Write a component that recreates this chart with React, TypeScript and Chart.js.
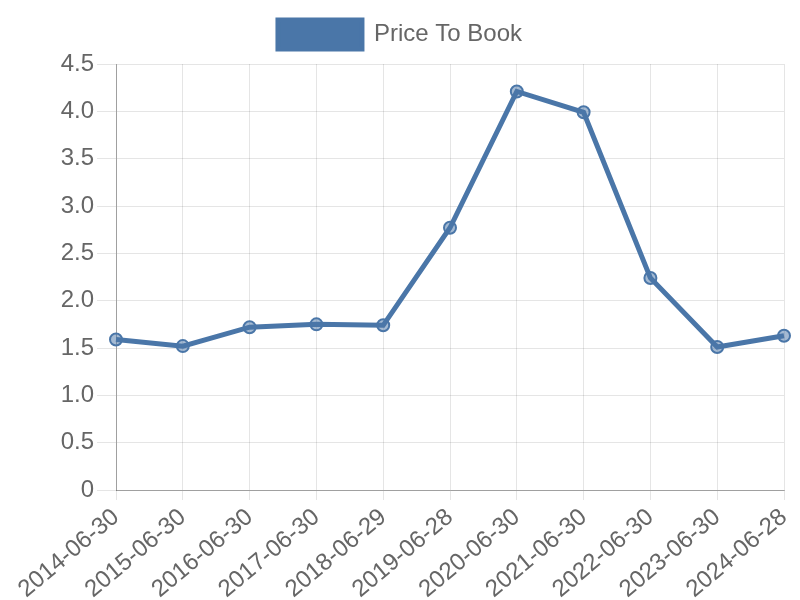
import React, { useEffect, useRef } from "react";
import { Chart, registerables } from "chart.js";

Chart.register(...registerables);

const labels = [
  "2014-06-30", "2015-06-30", "2016-06-30", "2017-06-30", "2018-06-29",
  "2019-06-28", "2020-06-30", "2021-06-30", "2022-06-30", "2023-06-30", "2024-06-28",
];
const priceToBook = [1.59, 1.52, 1.72, 1.75, 1.74, 2.77, 4.21, 3.99, 2.24, 1.51, 1.63];
const seriesName = "Price To Book";

const legendMargin = {
  id: "legendMargin",
  beforeInit(chart: any) {
    const legend = chart.legend;
    if (!legend) return;
    const origFit = legend.fit;
    legend.fit = function () {
      origFit.call(this);
      this.height += 5;
    };
  },
};

export default function App() {
  const ref = useRef<HTMLCanvasElement | null>(null);
  useEffect(() => {
    document.body.style.margin = "0";
    const ctx = ref.current!;
    const chart = new Chart(ctx, {
      type: "line",
      data: {
        labels,
        datasets: [
          {
            label: seriesName,
            data: priceToBook,
            borderColor: "#4a76a8",
            backgroundColor: "#4a76a8",
            pointBackgroundColor: "rgba(74,118,168,0.5)",
            pointBorderColor: "#4a76a8",
            pointRadius: 6,
            pointBorderWidth: 2,
            borderWidth: 5,
            tension: 0,
            fill: false,
          },
        ],
      },
      plugins: [legendMargin],
      options: {
        animation: false,
        responsive: false,
        layout: { padding: { right: 16, top: 10, left: 16, bottom: 0 } },
        plugins: {
          legend: {
            labels: {
              color: "#666",
              boxWidth: 84,
              boxHeight: 29,
              font: { size: 24, family: "'Liberation Sans', Arial, sans-serif" },
            },
          },
          tooltip: { enabled: false },
        },
        scales: {
          x: {
            grid: { color: "rgba(0,0,0,0.1)", tickLength: 10 },
            border: { color: "rgba(0,0,0,0.3)" },
            afterFit: (s: any) => {
              s.paddingLeft = 0;
              s.paddingRight = 0;
              s.height -= 7;
            },
            ticks: {
              color: "#666",
              maxRotation: 40,
              minRotation: 40,
              font: { size: 24, family: "'Liberation Sans', Arial, sans-serif" },
            },
          },
          y: {
            min: 0,
            max: 4.5,
            grid: { color: "rgba(0,0,0,0.1)", tickLength: 19 },
            border: { color: "rgba(0,0,0,0.3)" },
            afterFit: (s: any) => {
              s.width = 100;
            },
            ticks: {
              stepSize: 0.5,
              color: "#666",
              font: { size: 24, family: "'Liberation Sans', Arial, sans-serif" },
              callback: (v: any) => (Number(v) === 0 ? "0" : Number(v).toFixed(1)),
            },
          },
        },
      },
    });
    return () => chart.destroy();
  }, []);
  return <canvas ref={ref} width={800} height={600} style={{ display: "block" }} />;
}
